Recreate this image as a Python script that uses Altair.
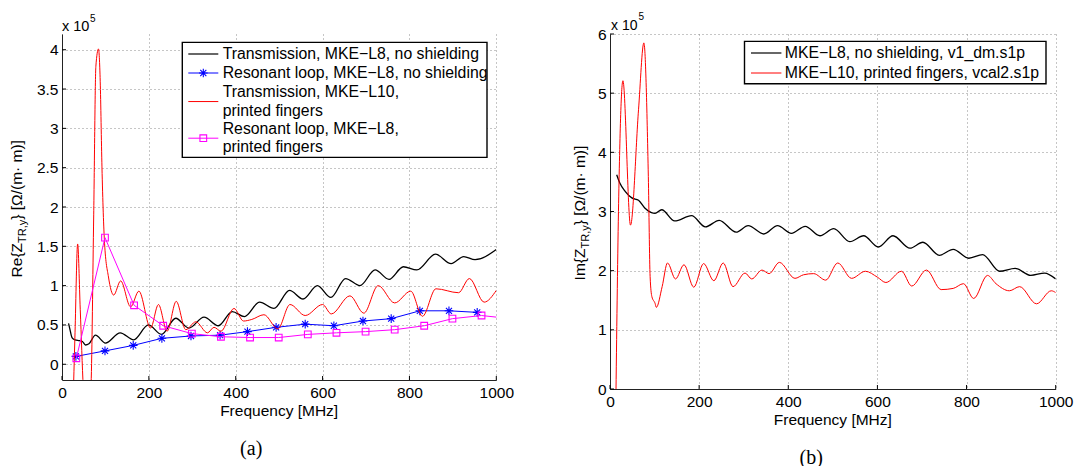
import altair as alt
import pandas as pd

SANS = "Liberation Sans"
SERIF = "Liberation Serif"
FS = 15.5

# ---------------- panel (a): Re{Z_TR,y}, units of 1e5 ----------------
a_black_f = [15, 18, 23, 30, 40, 47, 54, 62, 77, 100, 134, 165, 199, 229, 262, 292, 327, 360,
             392, 420, 455, 488, 524, 555, 588, 619, 653, 686, 721, 753, 786, 817, 860, 896,
             925, 951, 1000]
a_black_v = [0.52, 0.45, 0.34, 0.31, 0.30, 0.29, 0.245, 0.26, 0.37, 0.27, 0.40, 0.31, 0.50, 0.38,
             0.585, 0.46, 0.60, 0.49, 0.67, 0.605, 0.79, 0.71, 0.94, 0.83, 1.0, 0.85, 1.09, 1.0,
             1.2, 1.08, 1.24, 1.2, 1.4, 1.28, 1.37, 1.33, 1.46]

a_blue_f = [32, 99, 164, 230, 297, 364, 427, 493, 560, 626, 693, 758, 824, 891, 956]
a_blue_v = [0.10, 0.17, 0.24, 0.33, 0.36, 0.37, 0.415, 0.47, 0.51, 0.49, 0.55, 0.58, 0.68, 0.68, 0.66]

a_red_f = [25, 30, 36, 42, 49, 58, 67, 73, 78, 84, 88, 92, 98, 107, 119, 135, 158, 177, 204, 222,
           242, 263, 285, 308, 335, 350, 366, 396, 418, 437, 465, 497, 525, 560, 600, 620, 663,
           695, 728, 766, 803, 830, 861, 913, 938, 972, 1000]
a_red_v = [-0.6, 0.4, 1.53, 0.7, -0.3, -1.0, -0.25, 1.9, 3.79, 4.01, 3.6, 2.51, 1.54, 1.11, 0.88,
           1.06, 0.73, 0.93, 0.46, 0.76, 0.42, 0.80, 0.44, 0.54, 0.40, 0.47, 0.42, 0.71, 0.55, 0.57,
           0.63, 0.45, 0.76, 0.62, 0.76, 0.64, 0.87, 0.65, 1.0, 0.78, 0.93, 0.61, 0.96, 0.91, 1.09,
           0.79, 0.94]

a_mag_f = [33, 99, 166, 233, 299, 366, 433, 499, 566, 632, 699, 766, 834, 899, 966]
a_mag_v = [0.076, 1.61, 0.75, 0.49, 0.39, 0.35, 0.34, 0.34, 0.38, 0.40, 0.415, 0.44, 0.49, 0.58, 0.62]
a_mag_tail_f = [1033]
a_mag_tail_v = [0.58]

a_legend = ["Transmission, MKE\u2212L8, no shielding",
            "Resonant loop, MKE\u2212L8, no shielding",
            "Transmission, MKE\u2212L10,",
            "printed fingers",
            "Resonant loop, MKE\u2212L8,",
            "printed fingers"]

a_xticks = [0, 200, 400, 600, 800, 1000]
a_yticks = [0, 0.5, 1, 1.5, 2, 2.5, 3, 3.5, 4]

# ---------------- panel (b): Im{Z_TR,y}, units of 1e5 ----------------
b_black_f = [15, 22, 34, 49, 64, 78, 93, 101, 116, 145, 183, 214, 245, 283, 310, 345, 376, 407,
             438, 471, 502, 538, 569, 602, 635, 673, 702, 739, 770, 805, 836, 874, 909, 944, 975,
             1000]
b_black_v = [3.62, 3.48, 3.34, 3.23, 3.19, 3.06, 2.98, 2.97, 3.03, 2.84, 2.93, 2.74, 2.85, 2.65,
             2.76, 2.62, 2.76, 2.63, 2.75, 2.59, 2.71, 2.49, 2.59, 2.40, 2.59, 2.38, 2.48, 2.26,
             2.36, 2.21, 2.27, 1.99, 2.04, 1.92, 1.96, 1.86]

b_red_f = [13, 19, 29, 46, 64, 76, 86, 90, 94, 101, 104, 117, 129, 147, 166, 188, 210, 233, 254,
           276, 303, 318, 341, 357, 380, 415, 434, 457, 484, 511, 542, 573, 600, 619, 654, 677,
           710, 743, 770, 793, 816, 847, 866, 896, 919, 957, 990, 1000]
b_red_v = [-0.3, 3.0, 5.21, 2.77, 4.72, 5.85, 3.59, 1.9, 1.56, 1.45, 1.38, 1.73, 2.13, 1.86, 2.10,
           1.72, 2.12, 1.83, 2.13, 1.73, 1.96, 1.86, 2.01, 1.95, 2.14, 1.87, 1.93, 1.95, 1.84, 2.13,
           1.87, 1.99, 1.89, 1.80, 1.99, 1.74, 2.01, 1.68, 1.70, 1.78, 1.53, 1.92, 1.78, 1.66, 1.73,
           1.44, 1.66, 1.63]

b_legend = ["MKE\u2212L8, no shielding, v1_dm.s1p",
            "MKE\u2212L10, printed fingers, vcal2.s1p"]

b_xticks = [0, 200, 400, 600, 800, 1000]
b_yticks = [0, 1, 2, 3, 4, 5, 6]

STAR = "M-1,0L1,0M0,-1L0,1M-0.7,-0.7L0.7,0.7M-0.7,0.7L0.7,-0.7"


def one():
    return pd.DataFrame({"k": [0]})


def txt(s, x, y, size=FS, angle=0, align="left", baseline="alphabetic", font=SANS):
    return alt.Chart(one()).mark_text(text=s, fontSize=size, angle=angle, align=align,
                                      baseline=baseline, font=font, color="black").encode(
        x=alt.value(x), y=alt.value(y))


def hline(x1, x2, y, color, w=1.0):
    return alt.Chart(one()).mark_rule(color=color, strokeWidth=w).encode(
        x=alt.value(x1), x2=alt.value(x2), y=alt.value(y))


def rect(x1, x2, y1, y2, **kw):
    return alt.Chart(one()).mark_rect(**kw).encode(
        x=alt.value(x1), x2=alt.value(x2), y=alt.value(y1), y2=alt.value(y2))


def build_panel(W, H, xdom, ydom, xticks, yticks, series, legend_layers, texts, anchor):
    xs = alt.Scale(domain=xdom, nice=False, zero=False)
    ys = alt.Scale(domain=ydom, nice=False, zero=False)
    ax = alt.Axis(values=xticks, grid=True, title=None, labelPadding=5, format="d")
    ay = alt.Axis(values=yticks, grid=True, title=None, labelPadding=4, format="~g")

    def X(f):
        return alt.X(f"{f}:Q", scale=xs, axis=ax)

    def Y(f):
        return alt.Y(f"{f}:Q", scale=ys, axis=ay)

    layers = [rect(*anchor, opacity=0)]
    for s in series:
        df = pd.DataFrame({"f": s["f"], "v": s["v"]})
        layers.append(alt.Chart(df).mark_line(color=s["color"], strokeWidth=s.get("w", 1.0),
                                              interpolate=s.get("interp", "linear"), clip=True)
                      .encode(x=X("f"), y=Y("v")))
        if "shape" in s:
            dm = pd.DataFrame({"f": s["mf"], "v": s["mv"]})
            layers.append(alt.Chart(dm).mark_point(shape=s["shape"], size=s["size"], filled=False,
                                                   color=s["color"], strokeWidth=1.1, opacity=1)
                          .encode(x=X("f"), y=Y("v")))
    # inward tick marks
    tx = pd.DataFrame({"t": xticks})
    layers.append(alt.Chart(tx).mark_rule(color="black", strokeWidth=1)
                  .encode(x=X("t"), y=alt.value(H), y2=alt.value(H - 4)))
    ty = pd.DataFrame({"t": yticks})
    layers.append(alt.Chart(ty).mark_rule(color="black", strokeWidth=1)
                  .encode(y=Y("t"), x=alt.value(0), x2=alt.value(4)))
    layers += legend_layers
    layers += texts
    return alt.layer(*layers).properties(width=W, height=H)


# ---------------- panel (a) ----------------
WA, HA = 434.3, 346
a_series = [
    {"f": a_black_f, "v": a_black_v, "color": "black", "w": 1.3, "interp": "monotone"},
    {"f": a_blue_f, "v": a_blue_v, "color": "#0000ff", "shape": STAR, "size": 75,
     "mf": a_blue_f, "mv": a_blue_v},
    {"f": a_red_f, "v": a_red_v, "color": "#ff0000", "interp": "monotone"},
    {"f": a_mag_f + a_mag_tail_f, "v": a_mag_v + a_mag_tail_v, "color": "#ff00ff",
     "shape": "square", "size": 45, "mf": a_mag_f, "mv": a_mag_v},
]
lx1, lx2, lmx, ltx = 126.3, 156.3, 141.3, 160.7
rows_a = [20, 39, 58.4, 76.7, 95, 113.4]
a_leg = [
    rect(120.3, 425, 8.4, 123.4, fill="white", stroke="black", strokeWidth=1.4),
    hline(lx1, lx2, rows_a[0], "black", 1.2),
    hline(lx1, lx2, rows_a[1], "#0000ff"),
    alt.Chart(one()).mark_point(shape=STAR, size=75, filled=False, color="#0000ff",
                                strokeWidth=1.1, opacity=1).encode(x=alt.value(lmx), y=alt.value(rows_a[1])),
    hline(lx1, lx2, (rows_a[2] + rows_a[3]) / 2, "#ff0000"),
    hline(lx1, lx2, (rows_a[4] + rows_a[5]) / 2, "#ff00ff"),
    alt.Chart(one()).mark_point(shape="square", size=45, filled=False, color="#ff00ff",
                                strokeWidth=1.1, opacity=1).encode(
        x=alt.value(lmx), y=alt.value((rows_a[4] + rows_a[5]) / 2)),
]
for lab, yy in zip(a_legend, rows_a):
    a_leg.append(txt(lab, ltx, yy, size=15.8, baseline="middle"))

a_texts = [
    txt("x 10", 0, -3.3, size=14.5),
    txt("5", 28, -12.5, size=10),
    txt("Frequency [MHz]", WA / 2, HA + 35.7, align="center"),
    txt("Re{Z", -39.7, 243.4, angle=270),
    txt("TR,y", -35.7, 208.9, size=11, angle=270),
    txt("} [\u03a9/(m\u00b7 m)]", -39.7, 185.7, angle=270),
    txt("(a)", 189.2, 420.5, size=20, align="center", font=SERIF),
]
left = build_panel(WA, HA, [0, 1000], [-0.2, 4.2], a_xticks, a_yticks, a_series, a_leg, a_texts,
                   (-61.7, 464.3, -33.3, 432.7))

# ---------------- panel (b) ----------------
WB, HB = 445.7, 355
b_series = [
    {"f": b_black_f, "v": b_black_v, "color": "black", "w": 1.3, "interp": "monotone"},
    {"f": b_red_f, "v": b_red_v, "color": "#ff0000", "interp": "monotone"},
]
bx1, bx2, btx = 141, 171.4, 174.8
rows_b = [19, 39]
b_leg = [
    rect(134.5, 436, 7.4, 49.7, fill="white", stroke="black", strokeWidth=1.4),
    hline(bx1, bx2, rows_b[0], "black", 1.2),
    hline(bx1, bx2, rows_b[1], "#ff0000"),
]
for lab, yy in zip(b_legend, rows_b):
    b_leg.append(txt(lab, btx, yy, size=15.8, baseline="middle"))

b_texts = [
    txt("x 10", 1, -3.6, size=14),
    txt("5", 28.5, -14, size=10),
    txt("Frequency [MHz]", WB / 2, HB + 35.7, align="center"),
    txt("Im{Z", -25.3, 246.4, angle=270),
    txt("TR,y", -21.3, 214.5, size=11, angle=270),
    txt("} [\u03a9/(m\u00b7 m)]", -25.3, 191.3, angle=270),
    txt("(b)", 201.2, 429.5, size=20, align="center", font=SERIF),
]
right = build_panel(WB, HB, [0, 1000], [0, 6], b_xticks, b_yticks, b_series, b_leg, b_texts,
                    (-82.3, 466.7, -24.3, 441.7))

chart = alt.hconcat(left, right, spacing=0).properties(padding=0).configure_view(
    stroke=None
).configure_axis(
    labelFont=SANS, labelFontSize=FS, labelColor="black",
    gridColor="#8c8c8c", gridDash=[1, 3], gridOpacity=1, gridWidth=1,
    domainColor="#222222", domainWidth=1,
    ticks=False, tickSize=0, labelFlush=False, labelOverlap=False,
)

chart.save("out.html", embed_options={"renderer": "svg", "actions": False})
